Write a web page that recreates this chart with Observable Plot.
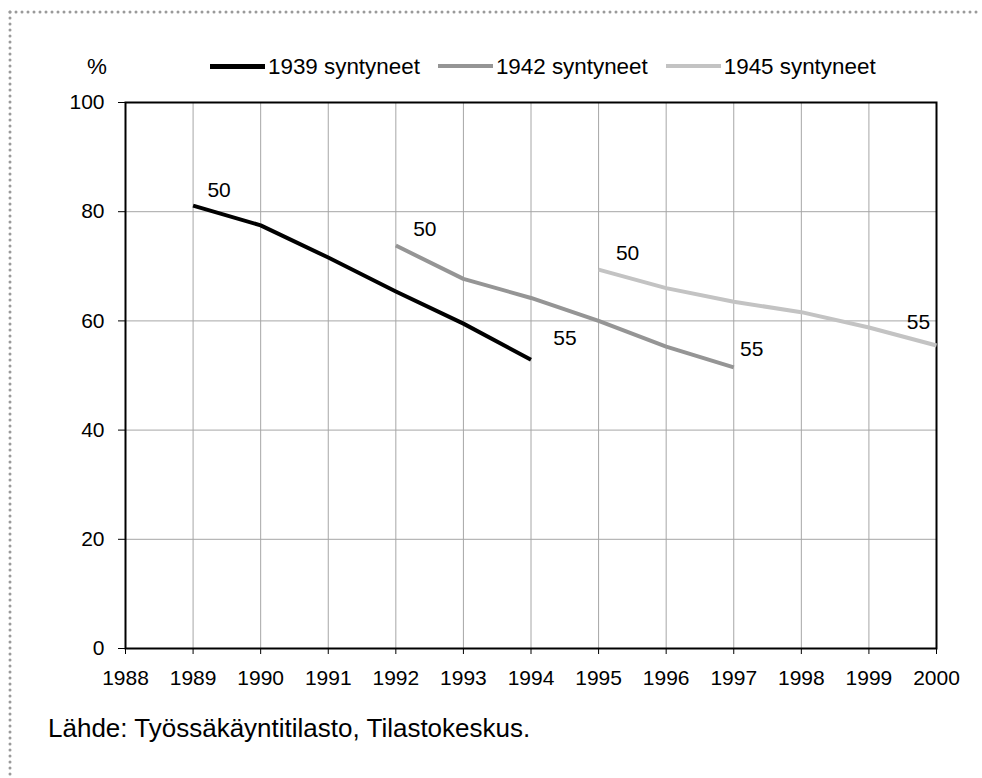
<!DOCTYPE html>
<html>
<head>
<meta charset="utf-8">
<script src="https://cdn.jsdelivr.net/npm/d3@7"></script>
<script src="https://cdn.jsdelivr.net/npm/@observablehq/plot@0.6"></script>
<style>
  html, body { margin: 0; padding: 0; background: #fff; }
  #wrap { position: relative; width: 982px; height: 778px; overflow: hidden; font-family: "Liberation Sans", Arial, sans-serif; color: #000; }
  #wrap > svg.plot { position: absolute; left: 0; top: 0; }
  #border { position: absolute; left: 0; top: 0; }
  #legend { position: absolute; left: 210px; top: 54px; display: flex; gap: 18px; font-size: 22.4px; line-height: 26px; white-space: nowrap; }
  .item { display: flex; align-items: center; }
  .sw { display: inline-block; width: 55px; height: 4px; margin-right: 3px; margin-top: -2px; }
  #pct { position: absolute; left: 87px; top: 54px; font-size: 22.4px; line-height: 26px; }
  #caption { position: absolute; left: 48px; top: 713px; font-size: 26px; line-height: 30px; white-space: nowrap; }
</style>
</head>
<body>
<div id="wrap">
  <svg id="border" width="982" height="778">
    <line x1="10" y1="12" x2="982" y2="12" stroke="#9a9a9a" stroke-width="3" stroke-dasharray="0 6" stroke-linecap="round"/>
    <line x1="10" y1="12" x2="10" y2="778" stroke="#9a9a9a" stroke-width="3" stroke-dasharray="0 6" stroke-linecap="round"/>
  </svg>
  <div id="pct">%</div>
  <div id="legend"></div>
  <div id="caption">Lähde: Työssäkäyntitilasto, Tilastokeskus.</div>
</div>
<script>
// ---- data ----
const seriesNames = ["1939 syntyneet", "1942 syntyneet", "1945 syntyneet"];
const seriesColors = ["#000000", "#959595", "#c3c3c3"];

const years1939 = [1989, 1990, 1991, 1992, 1993, 1994];
const values1939 = [81.1, 77.5, 71.6, 65.4, 59.5, 52.9];

const years1942 = [1992, 1993, 1994, 1995, 1996, 1997];
const values1942 = [73.8, 67.7, 64.2, 60.0, 55.3, 51.5];

const years1945 = [1995, 1996, 1997, 1998, 1999, 2000];
const values1945 = [69.4, 66.0, 63.5, 61.6, 58.8, 55.5];

const startLabel = "50";   // age at first point
const endLabel = "55";     // age at last point

const xTicks = [1988, 1989, 1990, 1991, 1992, 1993, 1994, 1995, 1996, 1997, 1998, 1999, 2000];
const yTicks = [0, 20, 40, 60, 80, 100];

const captionText = "Lähde: Työssäkäyntitilasto, Tilastokeskus.";

// ---- build table ----
const seriesYears = [years1939, years1942, years1945];
const seriesValues = [values1939, values1942, values1945];
const rows = [];
seriesNames.forEach((name, i) => {
  seriesYears[i].forEach((yr, j) => rows.push({series: name, year: yr, value: seriesValues[i][j]}));
});
const firstPts = seriesNames.map((name, i) => ({series: name, year: seriesYears[i][0], value: seriesValues[i][0], label: startLabel}));
const lastPts = seriesNames.map((name, i) => {
  const n = seriesYears[i].length - 1;
  return {series: name, year: seriesYears[i][n], value: seriesValues[i][n], label: endLabel};
});

const gridYears = xTicks.slice(1, -1);
const gridVals = yTicks.slice(1, -1);

const chart = Plot.plot({
  width: 982,
  height: 778,
  marginLeft: 125,
  marginRight: 46,
  marginTop: 102,
  marginBottom: 130,
  x: {domain: [1988, 2000]},
  y: {domain: [0, 100]},
  color: {domain: seriesNames, range: seriesColors},
  style: {fontFamily: "'Liberation Sans', Arial, sans-serif", fontSize: "21px", color: "#000", background: "transparent"},
  marks: [
    Plot.gridX(gridYears, {stroke: "#a6a6a6", strokeOpacity: 1, strokeWidth: 1}),
    Plot.gridY(gridVals, {stroke: "#a6a6a6", strokeOpacity: 1, strokeWidth: 1}),
    Plot.axisY(yTicks, {tickSize: 7, tickPadding: 14, label: null, fontSize: 21, tickFormat: d => String(d), stroke: "#000"}),
    Plot.axisX(xTicks, {tickSize: 6, tickPadding: 16, label: null, fontSize: 21, tickFormat: d => String(d), stroke: "#000"}),
    Plot.frame({stroke: "#000", strokeWidth: 2}),
    Plot.line(rows, {x: "year", y: "value", z: "series", stroke: "series", strokeWidth: 4, strokeLinejoin: "round", strokeLinecap: "butt"}),
    Plot.text(firstPts, {filter: d => d.series === seriesNames[0], x: "year", y: "value", text: "label", dx: 26, dy: -15, fontSize: 21, fill: "#000"}),
    Plot.text(firstPts, {filter: d => d.series !== seriesNames[0], x: "year", y: "value", text: "label", dx: 29, dy: -16, fontSize: 21, fill: "#000"}),
    Plot.text(lastPts, {filter: d => d.series === seriesNames[0], x: "year", y: "value", text: "label", dx: 34, dy: -21, fontSize: 21, fill: "#000"}),
    Plot.text(lastPts, {filter: d => d.series === seriesNames[1], x: "year", y: "value", text: "label", dx: 18, dy: -18, fontSize: 21, fill: "#000"}),
    Plot.text(lastPts, {filter: d => d.series === seriesNames[2], x: "year", y: "value", text: "label", dx: -18, dy: -23, fontSize: 21, fill: "#000"})
  ]
});
chart.classList.add("plot");
const wrap = document.getElementById("wrap");
wrap.insertBefore(chart, document.getElementById("pct"));

// legend
const legend = document.getElementById("legend");
seriesNames.forEach((name, i) => {
  const item = document.createElement("div");
  item.className = "item";
  const sw = document.createElement("span");
  sw.className = "sw";
  sw.style.background = seriesColors[i];
  if (i === 0) sw.style.height = "5px";
  const t = document.createElement("span");
  t.textContent = name;
  item.appendChild(sw);
  item.appendChild(t);
  legend.appendChild(item);
});
document.getElementById("caption").textContent = captionText;
</script>
</body>
</html>
